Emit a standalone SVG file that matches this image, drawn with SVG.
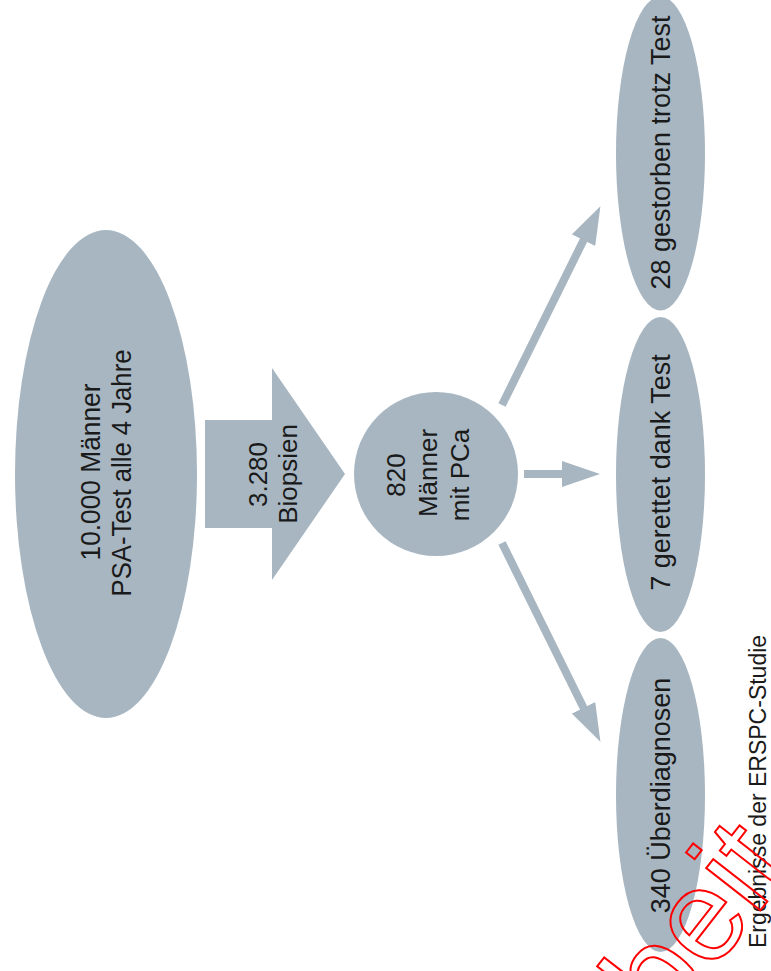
<svg xmlns="http://www.w3.org/2000/svg" width="771" height="971" viewBox="0 0 771 971">
  <style>
    .shape { fill: #a7b6c1; }
    .lbl { font-family: "Liberation Sans", Arial, sans-serif; fill: #1a1a1a; text-anchor: middle; }
    .conn { stroke: #a7b6c1; stroke-width: 8; fill: none; }
    .wm { font-family: "Liberation Sans", Arial, sans-serif; fill: none; stroke: #ff0000; stroke-width: 2; }
  </style>
  <defs>
    <marker id="head" markerUnits="userSpaceOnUse" markerWidth="38" markerHeight="26" viewBox="0 0 38 26" refX="1" refY="13" orient="auto">
      <path d="M0,0 L38,13 L0,26 Z" fill="#a7b6c1"/>
    </marker>
  </defs>
  <rect width="771" height="971" fill="#ffffff"/>

  <g id="node-start">
    <ellipse class="shape" cx="106" cy="474" rx="91" ry="244"/>
    <text class="lbl" font-size="27" transform="translate(100,472) rotate(-90)" textLength="177" lengthAdjust="spacingAndGlyphs">10.000 Männer</text>
    <text class="lbl" font-size="27" transform="translate(131,473) rotate(-90)" textLength="247" lengthAdjust="spacingAndGlyphs">PSA-Test alle 4 Jahre</text>
  </g>

  <g id="node-biopsies">
    <polygon class="shape" points="205,420 272,420 272,368 345,474 272,580 272,528 205,528"/>
    <text class="lbl" font-size="26" transform="translate(267,474.5) rotate(-90)">3.280</text>
    <text class="lbl" font-size="26" transform="translate(297,474) rotate(-90)">Biopsien</text>
  </g>

  <g id="node-pca">
    <circle class="shape" cx="436" cy="474" r="82"/>
    <text class="lbl" font-size="26" transform="translate(405,475) rotate(-90)">820</text>
    <text class="lbl" font-size="26" transform="translate(437,473) rotate(-90)">Männer</text>
    <text class="lbl" font-size="26" transform="translate(469,475) rotate(-90)">mit PCa</text>
  </g>

  <g id="connectors">
    <line class="conn" x1="502" y1="405" x2="584" y2="239.3" marker-end="url(#head)"/>
    <line class="conn" x1="524" y1="474" x2="563" y2="474" marker-end="url(#head)"/>
    <line class="conn" x1="502" y1="543" x2="584" y2="708.7" marker-end="url(#head)"/>
  </g>

  <g id="node-died">
    <ellipse class="shape" cx="660.5" cy="153.5" rx="44.5" ry="157"/>
    <text class="lbl" font-size="27" transform="translate(670,152.5) rotate(-90)">28 gestorben trotz Test</text>
  </g>

  <g id="node-saved">
    <ellipse class="shape" cx="660.5" cy="474.5" rx="44.5" ry="157.5"/>
    <text class="lbl" font-size="27" transform="translate(670,472.5) rotate(-90)">7 gerettet dank Test</text>
  </g>

  <g id="node-overdiagnosis">
    <ellipse class="shape" cx="660.5" cy="795" rx="44.5" ry="157"/>
    <text class="lbl" font-size="27" transform="translate(670,795.5) rotate(-90)">340 Überdiagnosen</text>
  </g>

  <g id="caption">
    <text class="lbl" font-size="23" transform="translate(766,791.5) rotate(-90)">Ergebnisse der ERSPC-Studie</text>
  </g>

  <g id="watermark">
    <text class="wm" font-size="130" text-anchor="end" transform="translate(795,866) rotate(-52)">beit</text>
  </g>
</svg>
